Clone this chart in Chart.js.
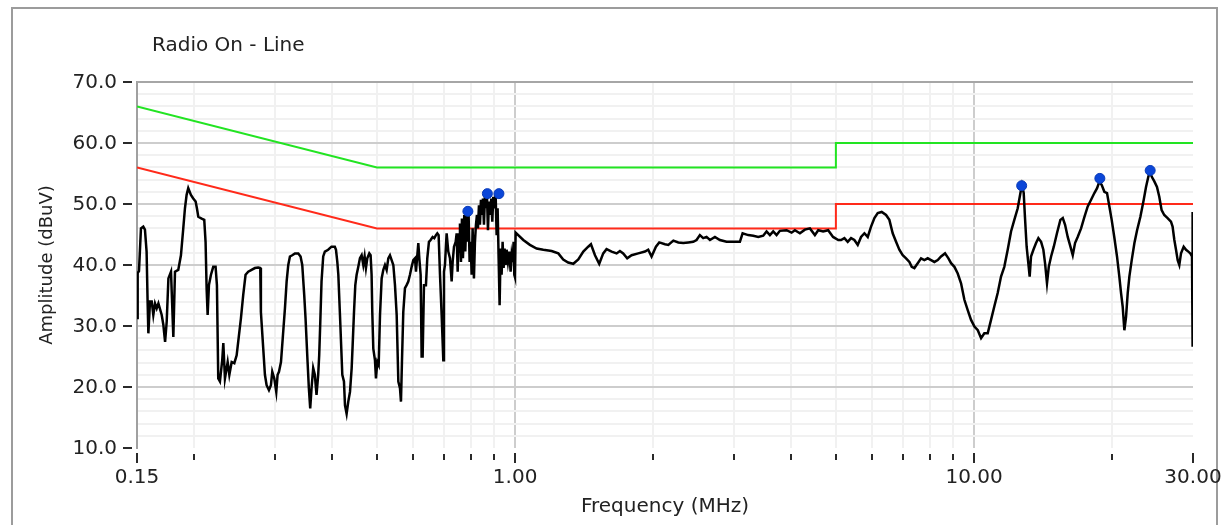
<!DOCTYPE html>
<html>
<head>
<meta charset="utf-8">
<title>Radio On - Line</title>
<script src="https://cdn.jsdelivr.net/npm/chart.js@4.4.1/dist/chart.umd.min.js"></script>
<style>
    html, body { margin: 0; padding: 0; background: #fff; }
    #wrap { position: relative; width: 1221px; height: 525px; overflow: hidden; }
</style>
</head>
<body>
<div id="wrap"><canvas id="chart" width="1221" height="525"></canvas></div>
<script>
const chartTitle = 'Radio On - Line';
const xTitle = 'Frequency (MHz)';
const yTitle = 'Amplitude (dBuV)';

// x axis: tick positions and labelled ticks
const xTicks = [0.15, 0.2, 0.3, 0.4, 0.5, 0.6, 0.7, 0.8, 0.9, 1, 2, 3, 4, 5, 6, 7, 8, 9, 10, 20, 30];
const xLabelValues = [0.15, 1, 10, 30];
const xLabelText = ['0.15', '1.00', '10.00', '30.00'];
const xMajorGrid = [1, 10];

// y axis
const yLabelValues = [10, 20, 30, 40, 50, 60, 70];
const yMinorStep = 2;

// limit lines
const qpFreq = [0.15, 0.5, 5, 5, 30];
const qpLimit = [66, 56, 56, 60, 60];
const avgFreq = [0.15, 0.5, 5, 5, 30];
const avgLimit = [56, 46, 46, 50, 50];

// peak markers
const peakFreq = [0.789, 0.870, 0.922, 12.7, 18.8, 24.2];
const peakLevel = [48.8, 51.7, 51.7, 53.0, 54.2, 55.5];

// measured trace
const traceFreq = [
    0.1500, 0.1505, 0.1515, 0.1530, 0.1548, 0.1561, 0.1574, 0.1582, 0.1588, 0.1601,
    0.1615, 0.1628, 0.1642, 0.1656, 0.1670, 0.1698, 0.1712, 0.1727, 0.1741, 0.1756,
    0.1779, 0.1800, 0.1815, 0.1845, 0.1870, 0.1892, 0.1908, 0.1924, 0.1940, 0.1966,
    0.1989, 0.2013, 0.2026, 0.2040, 0.2075, 0.2102, 0.2116, 0.2127, 0.2138, 0.2152,
    0.2174, 0.2199, 0.2225, 0.2240, 0.2255, 0.2274, 0.2301, 0.2313, 0.2332, 0.2364,
    0.2384, 0.2412, 0.2444, 0.2473, 0.2502, 0.2527, 0.2556, 0.2586, 0.2621, 0.2665,
    0.2710, 0.2756, 0.2784, 0.2793, 0.2826, 0.2850, 0.2874, 0.2908, 0.2937, 0.2957,
    0.2987, 0.3017, 0.3037, 0.3058, 0.3089, 0.3120, 0.3151, 0.3178, 0.3204, 0.3231,
    0.3269, 0.3313, 0.3369, 0.3408, 0.3437, 0.3471, 0.3494, 0.3530, 0.3553, 0.3577,
    0.3601, 0.3631, 0.3661, 0.3692, 0.3723, 0.3742, 0.3761, 0.3786, 0.3818, 0.3850,
    0.3914, 0.3980, 0.4047, 0.4071, 0.4098, 0.4119, 0.4153, 0.4202, 0.4237, 0.4259,
    0.4294, 0.4330, 0.4367, 0.4404, 0.4426, 0.4456, 0.4485, 0.4515, 0.4553, 0.4591,
    0.4630, 0.4669, 0.4700, 0.4731, 0.4763, 0.4811, 0.4843, 0.4867, 0.4884, 0.4909,
    0.4950, 0.4975, 0.5009, 0.5043, 0.5077, 0.5119, 0.5162, 0.5205, 0.5249, 0.5293,
    0.5337, 0.5382, 0.5428, 0.5473, 0.5520, 0.5566, 0.5612, 0.5640, 0.5668, 0.5706,
    0.5754, 0.5802, 0.5851, 0.5900, 0.5950, 0.6000, 0.6051, 0.6081, 0.6122, 0.6153,
    0.6184, 0.6225, 0.6256, 0.6288, 0.6330, 0.6393, 0.6436, 0.6490, 0.6545, 0.6611,
    0.6666, 0.6722, 0.6768, 0.6813, 0.6860, 0.6917, 0.6975, 0.6999, 0.7033, 0.7092,
    0.7152, 0.7212, 0.7273, 0.7310, 0.7359, 0.7421, 0.7458, 0.7496, 0.7533, 0.7558,
    0.7583, 0.7621, 0.7659, 0.7698, 0.7749, 0.7788, 0.7840, 0.7880, 0.7919, 0.7959,
    0.8000, 0.8040, 0.8080, 0.8134, 0.8175, 0.8216, 0.8257, 0.8299, 0.8341, 0.8383,
    0.8425, 0.8467, 0.8510, 0.8553, 0.8596, 0.8639, 0.8682, 0.8726, 0.8770, 0.8814,
    0.8873, 0.8918, 0.8963, 0.9023, 0.9068, 0.9114, 0.9160, 0.9206, 0.9252, 0.9299,
    0.9345, 0.9392, 0.9440, 0.9487, 0.9535, 0.9583, 0.9647, 0.9712, 0.9777, 0.9826,
    0.9876, 0.9925, 0.9959, 0.9993, 1.0025, 1.042, 1.077, 1.114, 1.152, 1.201,
    1.242, 1.273, 1.305, 1.339, 1.373, 1.408, 1.443, 1.463, 1.493, 1.525,
    1.556, 1.582, 1.623, 1.664, 1.692, 1.720, 1.755, 1.794, 1.855, 1.918,
    1.950, 1.983, 2.027, 2.061, 2.121, 2.157, 2.212, 2.268, 2.325, 2.384,
    2.444, 2.485, 2.527, 2.570, 2.613, 2.658, 2.725, 2.794, 2.889, 2.988,
    3.089, 3.131, 3.221, 3.303, 3.387, 3.472, 3.531, 3.591, 3.651, 3.713,
    3.775, 3.904, 4.003, 4.071, 4.174, 4.280, 4.389, 4.500, 4.576, 4.690,
    4.810, 4.930, 5.060, 5.131, 5.218, 5.306, 5.395, 5.486, 5.579, 5.673,
    5.769, 5.866, 5.965, 6.066, 6.168, 6.293, 6.431, 6.539, 6.649, 6.762,
    6.875, 6.992, 7.110, 7.230, 7.315, 7.413, 7.539, 7.665, 7.795, 7.927,
    8.060, 8.196, 8.335, 8.475, 8.646, 8.794, 8.912, 9.062, 9.214, 9.369,
    9.527, 9.688, 9.851, 10.02, 10.19, 10.36, 10.53, 10.71, 10.89, 11.07,
    11.26, 11.45, 11.64, 11.84, 12.04, 12.24, 12.45, 12.62, 12.72, 12.83,
    12.91, 13.02, 13.13, 13.22, 13.31, 13.47, 13.65, 13.81, 14.00, 14.16,
    14.28, 14.42, 14.55, 14.72, 14.92, 15.16, 15.42, 15.61, 15.79, 16.00,
    16.22, 16.41, 16.60, 16.82, 17.11, 17.40, 17.69, 17.99, 18.29, 18.54,
    18.76, 18.98, 19.23, 19.49, 19.72, 19.95, 20.21, 20.49, 20.73, 20.91,
    21.08, 21.26, 21.44, 21.62, 21.80, 22.06, 22.36, 22.66, 23.04, 23.43,
    23.70, 23.98, 24.18, 24.38, 24.71, 25.04, 25.33, 25.63, 25.97, 26.41,
    26.86, 27.08, 27.32, 27.55, 27.78, 28.01, 28.25, 28.63, 28.97, 29.31,
    29.60, 29.85, 29.93, 29.95
];
const traceLevel = [
    31.3, 38.7, 39.0, 46.0, 46.3, 45.8, 42.2, 34.0, 28.8, 34.0,
    34.0, 31.8, 33.7, 32.9, 33.7, 31.8, 30.2, 27.4, 30.7, 37.8,
    38.9, 28.2, 38.9, 39.2, 41.6, 46.0, 49.3, 51.5, 52.6, 51.5,
    50.9, 50.4, 49.3, 47.9, 47.6, 47.4, 43.8, 36.2, 31.8, 36.7,
    38.4, 39.7, 39.7, 36.7, 21.4, 20.9, 24.5, 27.2, 21.4, 24.1,
    22.0, 24.1, 23.9, 25.2, 28.5, 31.3, 35.1, 38.4, 38.9, 39.2,
    39.5, 39.6, 39.5, 32.3, 26.3, 22.0, 20.3, 19.5, 20.3, 22.5,
    21.4, 19.2, 22.0, 22.5, 24.1, 28.5, 32.9, 37.3, 40.0, 41.4,
    41.6, 41.9, 41.9, 41.4, 40.0, 35.1, 31.3, 24.1, 19.8, 16.5,
    19.8, 23.1, 22.0, 18.7, 22.0, 25.2, 30.2, 37.3, 41.4, 42.2,
    42.5, 43.0, 43.0, 42.5, 40.5, 38.4, 31.8, 22.0, 20.9, 17.0,
    15.6, 17.6, 19.2, 23.1, 26.9, 32.3, 36.7, 38.4, 39.7, 41.1,
    41.6, 40.0, 41.4, 39.5, 41.1, 41.9, 41.6, 38.4, 32.3, 26.3,
    24.4, 21.4, 24.1, 23.6, 31.8, 37.8, 39.2, 40.0, 39.2, 41.1,
    41.6, 40.8, 40.0, 36.7, 31.8, 20.9, 19.8, 17.6, 24.1, 32.3,
    36.2, 36.7, 37.3, 38.4, 39.7, 40.8, 41.1, 38.9, 41.6, 43.6,
    41.1, 38.4, 25.0, 25.0, 36.7, 36.7, 41.1, 43.8, 44.1, 44.6,
    44.4, 44.9, 45.2, 44.9, 38.4, 31.8, 24.4, 38.9, 40.0, 45.2,
    42.2, 41.1, 37.3, 40.5, 43.0, 43.8, 45.2, 38.9, 45.2, 42.2,
    46.8, 40.5, 47.6, 41.1, 48.2, 42.2, 48.7, 43.8, 48.2, 40.5,
    43.8, 38.4, 46.0, 37.8, 43.8, 46.6, 48.2, 46.0, 49.8, 46.6,
    50.7, 48.2, 50.9, 46.6, 51.5, 49.3, 51.6, 45.7, 50.4, 48.2,
    50.9, 47.1, 51.2, 49.3, 51.8, 44.9, 49.3, 41.1, 33.4, 42.7,
    38.4, 43.8, 39.5, 42.7, 40.0, 42.5, 40.5, 42.2, 38.9, 41.6,
    40.5, 43.8, 38.4, 38.0, 45.3, 44.1, 43.3, 42.7, 42.5, 42.3,
    41.9, 40.9, 40.4, 40.2, 40.9, 42.2, 43.0, 43.4, 41.6, 40.2,
    41.9, 42.6, 42.2, 41.9, 42.3, 41.9, 41.1, 41.6, 41.9, 42.2,
    42.5, 41.4, 43.0, 43.7, 43.4, 43.3, 44.0, 43.7, 43.6, 43.7,
    43.8, 44.1, 44.9, 44.4, 44.6, 44.1, 44.6, 44.1, 43.8, 43.8,
    43.8, 45.2, 44.9, 44.8, 44.6, 44.8, 45.5, 44.9, 45.5, 44.9,
    45.6, 45.7, 45.3, 45.7, 45.2, 45.8, 46.0, 44.9, 45.7, 45.5,
    45.7, 44.6, 44.1, 44.1, 44.4, 43.8, 44.4, 44.1, 43.3, 44.6,
    45.2, 44.6, 46.3, 47.7, 48.5, 48.7, 48.2, 47.4, 45.2, 43.8,
    42.5, 41.6, 41.1, 40.5, 39.7, 39.5, 40.3, 41.1, 40.8, 41.1,
    40.8, 40.5, 40.8, 41.4, 41.9, 41.1, 40.3, 39.7, 38.6, 37.0,
    34.3, 32.6, 31.0, 29.9, 29.3, 28.0, 28.8, 28.8, 31.0, 33.2,
    35.4, 38.1, 39.7, 42.5, 45.5, 47.4, 49.3, 51.8, 53.1, 51.8,
    47.9, 43.0, 40.3, 38.1, 41.4, 42.5, 43.6, 44.4, 43.8, 42.5,
    40.3, 37.0, 39.7, 41.4, 43.0, 45.2, 47.4, 47.7, 46.6, 44.6,
    43.0, 41.6, 43.6, 44.6, 46.0, 47.9, 49.6, 50.7, 51.8, 52.6,
    53.7, 53.1, 52.0, 51.8, 49.6, 47.4, 44.6, 41.4, 38.1, 35.4,
    33.2, 29.3, 31.5, 35.4, 38.1, 40.8, 43.6, 45.7, 47.9, 50.7,
    52.8, 54.5, 55.3, 54.5, 53.7, 52.8, 51.2, 49.0, 48.2, 47.7,
    47.1, 46.3, 44.1, 42.5, 40.8, 40.0, 41.9, 43.0, 42.5, 42.2,
    41.9, 41.4, 48.7, 26.6
];

const FONT = "'DejaVu Sans', Verdana, sans-serif";
const TEXT = '#222';

function pts(xs, ys) {
    return xs.map((x, i) => ({ x, y: ys[i] }));
}

// frame, top border, tick marks and the chart title
const decor = {
    id: 'decor',
    beforeDraw(chart) {
        const ctx = chart.ctx;
        ctx.save();
        ctx.fillStyle = '#fff';
        ctx.fillRect(0, 0, chart.width, chart.height);
        ctx.strokeStyle = '#9c9c9c';
        ctx.lineWidth = 2;
        ctx.strokeRect(12, 8, 1205, 540);
        ctx.restore();
    },
    afterDraw(chart) {
        const { ctx, chartArea: a, scales: { x, y } } = chart;
        const seg = (x1, y1, x2, y2) => { ctx.beginPath(); ctx.moveTo(x1, y1); ctx.lineTo(x2, y2); ctx.stroke(); };
        ctx.save();
        ctx.strokeStyle = '#a6a6a6';
        ctx.lineWidth = 2;
        seg(a.left, a.top, a.right, a.top);

        ctx.strokeStyle = '#2a2a2a';
        yLabelValues.forEach(v => {
            const py = Math.round(y.getPixelForValue(v));
            seg(a.left - 14, py, a.left - 5, py);
        });
        xTicks.forEach(v => {
            const px = Math.round(x.getPixelForValue(v));
            if (xLabelValues.includes(v)) seg(px, a.bottom + 5, px, a.bottom + 15);
            else seg(px, a.bottom + 6, px, a.bottom + 12);
        });

        ctx.fillStyle = TEXT;
        ctx.font = '20px ' + FONT;
        ctx.textAlign = 'left';
        ctx.textBaseline = 'middle';
        ctx.fillText(chartTitle, 152, 46);
        ctx.restore();
    }
};

Chart.defaults.font.family = FONT;
Chart.defaults.color = TEXT;

new Chart(document.getElementById('chart'), {
    type: 'line',
    data: {
        datasets: [
            {
                label: 'Peaks', data: pts(peakFreq, peakLevel), showLine: false,
                pointRadius: 5, pointBackgroundColor: '#0b46d8', pointBorderColor: '#0a3bb8', pointBorderWidth: 1, order: 0
            },
            {
                label: 'Trace', data: pts(traceFreq, traceLevel), borderColor: '#000', borderWidth: 2.5,
                pointRadius: 0, tension: 0, order: 1
            },
            {
                label: 'QP limit', data: pts(qpFreq, qpLimit), borderColor: '#22e422', borderWidth: 2,
                pointRadius: 0, tension: 0, order: 2
            },
            {
                label: 'AV limit', data: pts(avgFreq, avgLimit), borderColor: '#ff2a1a', borderWidth: 2,
                pointRadius: 0, tension: 0, order: 3
            }
        ]
    },
    options: {
        responsive: false,
        animation: false,
        devicePixelRatio: 1,
        layout: { padding: { left: 0, top: 82, right: 28, bottom: 0 } },
        plugins: { legend: { display: false }, tooltip: { enabled: false }, title: { display: false } },
        scales: {
            x: {
                type: 'logarithmic', min: 0.15, max: 30,
                afterBuildTicks: s => { s.ticks = xTicks.map(v => ({ value: v })); },
                afterFit: s => { s.height = 77; s.paddingLeft = 0; s.paddingRight = 0; },
                ticks: {
                    autoSkip: false, maxRotation: 0, minRotation: 0, padding: 18,
                    font: { size: 20 },
                    callback: v => { const i = xLabelValues.indexOf(v); return i >= 0 ? xLabelText[i] : ''; }
                },
                grid: {
                    drawTicks: false, lineWidth: 2,
                    color: c => {
                        const v = c.tick ? c.tick.value : null;
                        if (v === 0.15 || v === 30) return 'rgba(0,0,0,0)';
                        return xMajorGrid.includes(v) ? '#cdcdcd' : '#f1f1f1';
                    }
                },
                border: { display: false },
                title: { display: true, text: xTitle, font: { size: 20 }, padding: { top: 0, bottom: 6 } }
            },
            y: {
                type: 'linear', min: 10, max: 70,
                afterBuildTicks: s => {
                    const t = [];
                    for (let v = 10; v <= 70; v += yMinorStep) t.push({ value: v });
                    s.ticks = t;
                },
                afterFit: s => { s.width = 137; s.paddingTop = 0; s.paddingBottom = 0; },
                ticks: {
                    autoSkip: false, padding: 20, labelOffset: 1,
                    font: { size: 20 },
                    callback: v => yLabelValues.includes(v) ? v.toFixed(1) : ''
                },
                grid: {
                    drawTicks: false, lineWidth: 2,
                    color: c => {
                        const v = c.tick ? c.tick.value : null;
                        if (v === 10) return 'rgba(0,0,0,0)';
                        return v % 10 === 0 ? '#cdcdcd' : '#f1f1f1';
                    }
                },
                border: { display: true, color: '#a0a0a0', width: 2 },
                title: { display: true, text: yTitle, font: { size: 18 }, padding: { top: 37, bottom: 0 } }
            }
        }
    },
    plugins: [decor]
});
</script>
</body>
</html>
